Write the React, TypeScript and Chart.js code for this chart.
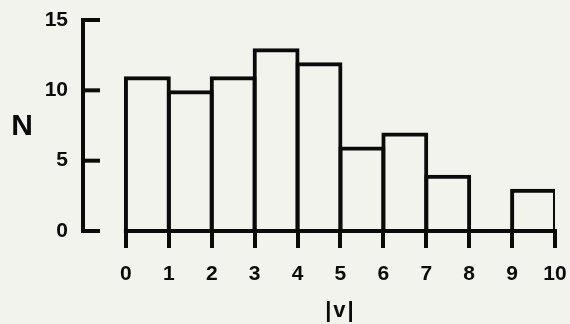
import React, { useEffect, useRef } from 'react';
import { Chart, registerables } from 'chart.js';

Chart.register(...registerables);

// Histogram bins: lower edge of each |v| bin and its count N
const binStarts = [0, 1, 2, 3, 4, 5, 6, 7, 8, 9];
const counts = [11, 10, 11, 13, 12, 6, 7, 4, 0, 3];
const xTicks = [0, 1, 2, 3, 4, 5, 6, 7, 8, 9, 10];
const yTicks = [0, 5, 10, 15];
const xTitle = '|v|';
const yTitle = 'N';

const FONT = '"Liberation Sans", Arial, sans-serif';
const INK = '#0a0a0a';
const BG = '#f3f3ee';

const axisPlugin = {
  id: 'histAxes',
  afterDatasetsDraw(chart: any) {
    const { ctx, chartArea, scales } = chart;
    const xs = scales.x;
    const ys = scales.y;
    ctx.save();
    ctx.strokeStyle = INK;
    ctx.lineWidth = 4;
    ctx.lineCap = 'butt';
    // baseline from first to last tick
    const y0 = ys.getPixelForValue(0);
    ctx.beginPath();
    ctx.moveTo(xs.getPixelForValue(xTicks[0]) - 2, y0);
    ctx.lineTo(xs.getPixelForValue(xTicks[xTicks.length - 1]) + 2, y0);
    ctx.stroke();
    // inward y tick marks
    for (const t of ys.ticks) {
      const py = ys.getPixelForValue(t.value);
      ctx.beginPath();
      ctx.moveTo(chartArea.left - 2, py);
      ctx.lineTo(chartArea.left + 17, py);
      ctx.stroke();
    }
    // titles
    ctx.fillStyle = INK;
    ctx.textAlign = 'center';
    ctx.textBaseline = 'middle';
    ctx.font = `bold 30px ${FONT}`;
    ctx.fillText(yTitle, 22, (ys.getPixelForValue(5) + ys.getPixelForValue(10)) / 2 + 1);
    ctx.font = `bold 22px ${FONT}`;
    try { (ctx as any).letterSpacing = '2px'; } catch (e) {}
    ctx.fillText(xTitle, xs.getPixelForValue(5), 311);
    ctx.restore();
  },
};

export default function App() {
  const ref = useRef<HTMLCanvasElement | null>(null);

  useEffect(() => {
    document.body.style.margin = '0';
    document.body.style.background = BG;
    const canvas = ref.current!;
    const chart = new Chart(canvas, {
      type: 'bar',
      data: {
        datasets: [
          {
            data: binStarts.map((b, i) => ({ x: b + 0.5, y: counts[i] })),
            backgroundColor: 'rgba(0,0,0,0)',
            borderColor: INK,
            borderWidth: 4,
            borderSkipped: 'bottom',
            barPercentage: 1.093,
            categoryPercentage: 1,
            grouped: false,
          } as any,
        ],
      },
      options: {
        animation: false,
        responsive: false,
        devicePixelRatio: 1,
        layout: { padding: { top: 20, right: 15, left: 0, bottom: 0 } },
        plugins: { legend: { display: false }, tooltip: { enabled: false } },
        scales: {
          x: {
            type: 'linear',
            offset: false,
            min: -1,
            max: 10,
            afterBuildTicks: (s: any) => {
              s.ticks = xTicks.map((v) => ({ value: v }));
            },
            afterFit: (s: any) => {
              s.height = 93;
              s.paddingLeft = 0;
              s.paddingRight = 0;
            },
            border: { display: false },
            grid: {
              display: true,
              offset: false,
              drawOnChartArea: false,
              drawTicks: true,
              tickLength: 17,
              tickWidth: 4,
              tickColor: INK,
              color: INK,
              lineWidth: 4,
            },
            ticks: {
              padding: 14,
              color: INK,
              maxRotation: 0,
              autoSkip: false,
              font: { family: FONT, size: 21, weight: 'bold' },
              callback: (v: any) => String(v),
            },
          },
          y: {
            type: 'linear',
            min: 0,
            max: 15,
            afterBuildTicks: (s: any) => {
              s.ticks = yTicks.map((v) => ({ value: v }));
            },
            afterFit: (s: any) => {
              s.width = 83;
              s.paddingTop = 0;
              s.paddingBottom = 0;
            },
            border: { display: true, color: INK, width: 4 },
            grid: { display: false, drawTicks: false },
            ticks: {
              padding: 15,
              color: INK,
              font: { family: FONT, size: 21, weight: 'bold' },
              callback: (v: any) => String(v),
            },
          },
        },
      } as any,
      plugins: [axisPlugin],
    });
    return () => chart.destroy();
  }, []);

  return (
    <div style={{ position: 'fixed', left: 0, top: 0, width: 570, height: 324, background: BG }}>
      <canvas ref={ref} width={570} height={324} style={{ display: 'block' }} />
    </div>
  );
}
